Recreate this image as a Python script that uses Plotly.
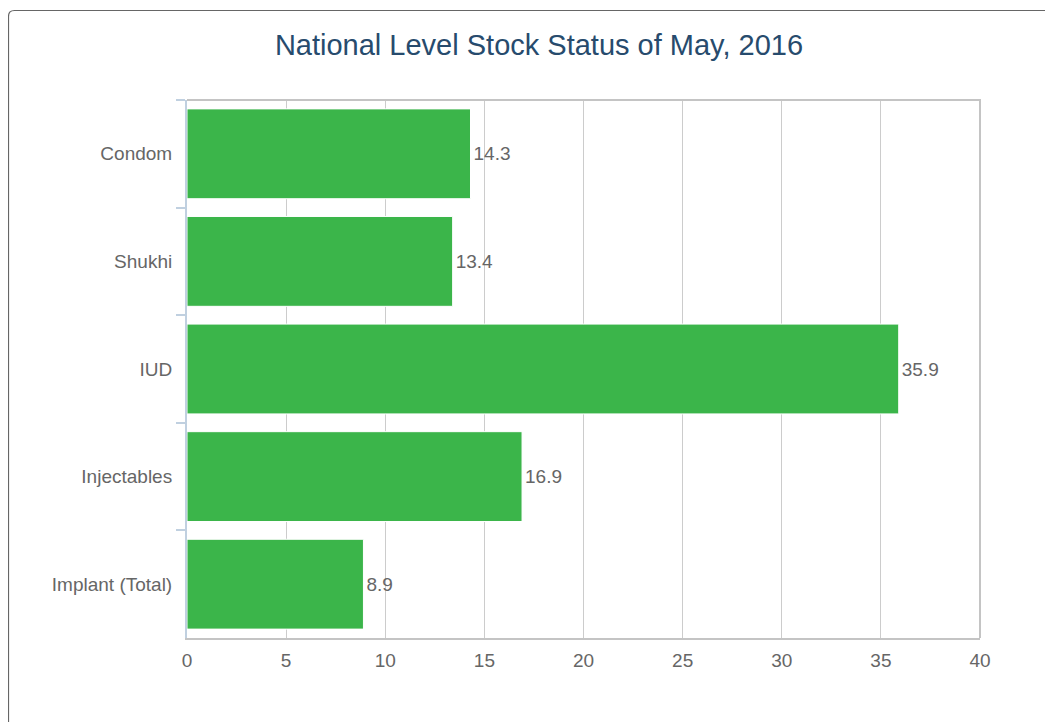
import plotly.graph_objects as go

categories = ["Condom", "Shukhi", "IUD", "Injectables", "Implant (Total)"]
values = [14.3, 13.4, 35.9, 16.9, 8.9]
x_ticks = [0, 5, 10, 15, 20, 25, 30, 35, 40]

OFF = 8  # page body margin
W, H = 1053 - OFF, 722 - OFF
L, R, T, B = 187 - OFF, 980 - OFF, 100 - OFF, 638 - OFF

def px(x):
    return (x - OFF - L) / (R - L)

def py(y):
    return (B - (y - OFF)) / (B - T)

FONT = "Liberation Sans, Arial"

fig = go.Figure(go.Bar(
    x=values, y=categories, orientation="h",
    marker=dict(color="#3bb54a", line=dict(color="#ffffff", width=1)),
    text=[f"{v:.1f}" for v in values], textposition="outside",
    textfont=dict(color="#666666", size=19, family=FONT),
    cliponaxis=False, width=0.835,
))

# outer rounded border (page coordinates)
x0, y0, x1, y1, r = 8.5, 10.5, 1070, 740, 6
path = (f"M {px(x0)},{py(y1)} L {px(x0)},{py(y0 + r)} "
        f"Q {px(x0)},{py(y0)} {px(x0 + r)},{py(y0)} L {px(x1)},{py(y0)}")
fig.add_shape(type="path", path=path, xref="paper", yref="paper",
              line=dict(color="#666666", width=1.2), layer="below")
# plot border top/right
fig.add_shape(type="path", xref="paper", yref="paper",
              path="M 0,1 L 1,1 L 1,0", line=dict(color="#c4c4c4", width=2))

fig.update_layout(
    width=W, height=H,
    margin=dict(l=L, r=W - R, t=T, b=H - B, pad=0),
    paper_bgcolor="white", plot_bgcolor="white",
    font=dict(family=FONT, color="#666666", size=19),
    title=dict(text="National Level Stock Status of May, 2016",
               x=(539 - OFF) / W, xanchor="center", y=1 - (45 - OFF) / H, yanchor="middle",
               font=dict(size=29, color="#274b6d", family=FONT)),
    showlegend=False,
    bargap=0.165,
    xaxis=dict(range=[0, 40], tickvals=x_ticks, showgrid=True, gridcolor="#cccccc",
               gridwidth=1, showline=True, linecolor="#c4c4c4", linewidth=2,
               zeroline=False, ticks="", ticklabelstandoff=4,
               tickfont=dict(size=19, color="#666666")),
    yaxis=dict(autorange="reversed", showline=True, linecolor="#c0d0e0", linewidth=2,
               ticks="outside", tickson="boundaries", ticklen=9, tickcolor="#c0d0e0",
               tickwidth=2, showgrid=False, ticklabelstandoff=9,
               tickfont=dict(size=19, color="#666666")),
)

fig.write_html("out.html")
